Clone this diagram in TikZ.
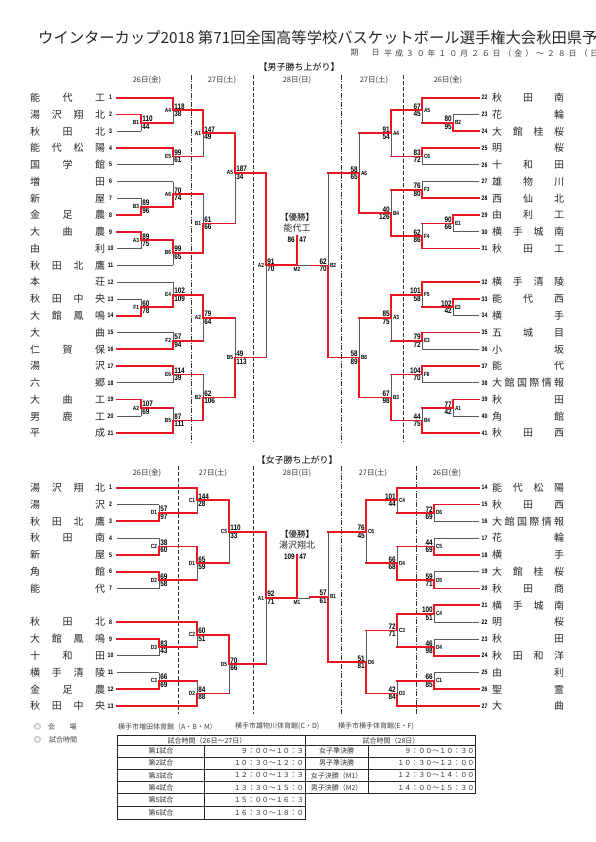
\documentclass[tikz,border=0pt]{standalone}
\usepackage{fontspec}
\setmainfont{Noto Sans CJK JP}
\newfontfamily\scorefont[FakeStretch=0.8]{Liberation Sans}
\usetikzlibrary{calc}
\definecolor{wred}{RGB}{232,22,34}

\tikzset{
  win/.style={draw=wred, line width=1.7pt, line cap=rect},
  lose/.style={draw=black!65, line width=0.8pt},
  score/.style={font=\scorefont\bfseries\fontsize{8}{8}\selectfont, inner sep=0.7pt},
  mlabel/.style={font=\scorefont\bfseries\fontsize{6}{6}\selectfont, inner sep=0.6pt},
  tnum/.style={font=\scorefont\bfseries\fontsize{6.5}{6.5}\selectfont, inner sep=0pt},
  tname/.style={font=\fontsize{10}{10}\selectfont, text=black!85, inner sep=0pt},
  daylab/.style={font=\fontsize{7.5}{7.5}\selectfont, text=black!80, inner sep=0pt},
  sepdash/.style={black!80, line width=0.8pt, dash pattern=on 4pt off 2pt},
  sepdot/.style={black!80, line width=0.8pt, dash pattern=on 5pt off 1.5pt on 1pt off 1.5pt},
  small/.style={font=\fontsize{7}{7}\selectfont, text=black!75, inner sep=0pt},
  cell/.style={font=\fontsize{7}{7}\selectfont, text=black!80, inner sep=0pt},
}

% names spread over a fixed width
\def\spfirst#1{#1\sprest}
\def\sprest#1{\ifx\relax#1\else\hfil#1\expandafter\sprest\fi}
\newcommand\spreadtext[2]{\makebox[#1][s]{\expandafter\spfirst#2\relax}}

% horizontal feed into a bout
\def\headof#1#2\relax{#1}
\newcommand\hseg[2]{%
  \ifnum#2=1 \draw[win] (#1) -- (bx |- #1);%
  \else\if t\headof#1\relax\draw[lose] (#1) -- (bx |- #1);%
  \else\draw[win] (#1) -- (bx |- #1);\fi\fi}

% [dy] out, x, upper, lower, winner, label, upper score, lower score
\newcommand\bout[9][0]{%
  \coordinate (bx) at (#3,0);
  \coordinate (bm) at ($(#4)!0.5!(#5)$);
  \coordinate (#2) at ($(bx |- bm)+(0,#1)$);
  \ifnum#6=1
    \hseg{#5}{0}\draw[lose] (bx |- #5) -- (#2);
    \hseg{#4}{1}\draw[win] (bx |- #4) -- (#2);
  \else
    \hseg{#4}{0}\draw[lose] (bx |- #4) -- (#2);
    \hseg{#5}{1}\draw[win] (bx |- #5) -- (#2);
  \fi
  \ifdim#3pt<297pt
    \node[mlabel, anchor=east] (#2l) at ([xshift=-1.2pt]#2) {#7};
    \node[score, anchor=south west] (#2a) at ([xshift=0.4pt]#2) {#8};
    \node[score, anchor=north west] (#2b) at ([xshift=0.4pt]#2) {#9};
  \else
    \node[mlabel, anchor=west] (#2l) at ([xshift=1.2pt]#2) {#7};
    \node[score, anchor=south east] (#2a) at ([xshift=-0.4pt]#2) {#8};
    \node[score, anchor=north east] (#2b) at ([xshift=-0.4pt]#2) {#9};
  \fi}

\begin{document}
\begin{tikzpicture}[x=1pt, y=-1pt]
\useasboundingbox (0,0) rectangle (595,842);
\clip (0,0) rectangle (595,842);

% heading
\node[anchor=west, inner sep=0pt, font=\fontsize{15.3}{15.3}\selectfont, text=black!85] (title) at (38,38)
  {ウインターカップ2018 第71回全国高等学校バスケットボール選手権大会秋田県予選会};
\node[small, font=\fontsize{8}{8}\selectfont] (kiA) at (354.5,53) {期};
\node[small, font=\fontsize{8}{8}\selectfont] (kiB) at (375.5,53) {日};
\node[small, font=\fontsize{8}{8}\selectfont, anchor=west] (date) at (384,53)
  {\spreadtext{225pt}{平成３０年１０月２６日（金）～２８日（日）}};

%% men
\node[font=\fontsize{9}{9}\selectfont, inner sep=0pt] (mhead) at (299,67) {【男子勝ち上がり】};
\foreach \dx/\dt [count=\k] in {147/26日(金), 222/27日(土), 297/28日(日), 374/27日(土), 448/26日(金)}
  \node[daylab] (mday\k) at (\dx,80) {\dt};
\foreach \sx/\ss in {191/sepdot, 253/sepdash, 341/sepdot, 403/sepdash}
  \draw[\ss] (\sx,75) -- (\sx,442);

\foreach \nm/\tx in {1/能代工, 2/湯沢翔北, 3/秋田北, 4/能代松陽, 5/国学館, 6/増田, 7/新屋,
    8/金足農, 9/大曲農, 10/由利, 11/秋田北鷹, 12/本荘, 13/秋田中央, 14/大館鳳鳴, 15/大曲,
    16/仁賀保, 17/湯沢, 18/六郷, 19/大曲工, 20/男鹿工, 21/平成} {
  \pgfmathsetmacro\yy{97.7+16.77*(\nm-1)}
  \coordinate (tm\nm) at (117,\yy);
  \node[tnum] (nm\nm) at (110.5,\yy) {\nm};
  \node[tname, anchor=west] (xm\nm) at (30,\yy) {\spreadtext{75pt}{\tx}};
}
\foreach \nm/\rw/\tx in {22/1/秋田南, 23/2/花輪, 24/3/大館桂桜, 25/4/明桜, 26/5/十和田,
    27/6/雄物川, 28/7/西仙北, 29/8/由利工, 30/9/横手城南, 31/10/秋田工, 32/12/横手清陵,
    33/13/能代西, 34/14/横手, 35/15/五城目, 36/16/小坂, 37/17/能代, 38/18/大館国際情報,
    39/19/秋田, 40/20/角館, 41/21/秋田西} {
  \pgfmathsetmacro\yy{97.7+16.77*(\rw-1)}
  \coordinate (tm\nm) at (479,\yy);
  \node[tnum] (nm\nm) at (484.5,\yy) {\nm};
  \node[tname, anchor=west] (xm\nm) at (492,\yy) {\spreadtext{72pt}{\tx}};
}

% left half
\bout{ml1}{141}{tm2}{tm3}{1}{B1}{110}{44}
\bout{ml2}{173}{tm1}{ml1}{1}{A4}{118}{38}
\bout{ml3}{173}{tm4}{tm5}{1}{E5}{99}{61}
\bout{ml4}{203}{ml2}{ml3}{1}{A1}{147}{49}
\bout{ml5}{141}{tm7}{tm8}{2}{B3}{89}{96}
\bout{ml6}{173}{tm6}{ml5}{2}{A6}{70}{74}
\bout{ml7}{141}{tm9}{tm10}{1}{A3}{89}{75}
\bout{ml8}{173}{ml7}{tm11}{1}{B6}{99}{65}
\bout{ml9}{203}{ml6}{ml8}{2}{B1}{61}{66}
\bout[-5.7]{ml10}{235}{ml4}{ml9}{1}{A5}{187}{34}
\bout{ml11}{141}{tm13}{tm14}{2}{F1}{60}{78}
\bout{ml12}{173}{tm12}{ml11}{2}{E4}{102}{109}
\bout{ml13}{173}{tm15}{tm16}{2}{F2}{57}{94}
\bout{ml14}{203}{ml12}{ml13}{1}{A2}{79}{64}
\bout{ml15}{173}{tm17}{tm18}{1}{E6}{114}{39}
\bout{ml16}{141}{tm19}{tm20}{1}{A2}{107}{69}
\bout{ml17}{173}{ml16}{tm21}{2}{B5}{87}{111}
\bout{ml18}{203}{ml15}{ml17}{2}{B2}{62}{106}
\bout{ml19}{235}{ml14}{ml18}{2}{B5}{49}{113}
\bout{ml20}{266}{ml10}{ml19}{1}{A2}{91}{70}

% right half
\bout{mr1}{453}{tm23}{tm24}{2}{B2}{80}{95}
\bout{mr2}{422}{tm22}{mr1}{1}{A5}{67}{45}
\bout{mr3}{422}{tm25}{tm26}{1}{C6}{83}{72}
\bout{mr4}{391}{mr2}{mr3}{1}{A4}{91}{54}
\bout{mr5}{422}{tm27}{tm28}{2}{F3}{76}{80}
\bout{mr6}{453}{tm29}{tm30}{1}{E1}{90}{66}
\bout{mr7}{422}{mr6}{tm31}{2}{F4}{62}{86}
\bout{mr8}{391}{mr5}{mr7}{2}{B4}{40}{126}
\bout{mr9}{359}{mr4}{mr8}{2}{A6}{58}{65}
\bout{mr10}{453}{tm33}{tm34}{1}{E2}{102}{42}
\bout{mr11}{422}{tm32}{mr10}{1}{F5}{101}{58}
\bout{mr12}{422}{tm35}{tm36}{1}{E3}{79}{72}
\bout{mr13}{391}{mr11}{mr12}{1}{A3}{85}{75}
\bout{mr14}{422}{tm37}{tm38}{1}{F6}{104}{70}
\bout{mr15}{453}{tm39}{tm40}{1}{A1}{77}{42}
\bout{mr16}{422}{mr15}{tm41}{2}{B4}{44}{75}
\bout{mr17}{391}{mr14}{mr16}{2}{B3}{67}{98}
\bout{mr18}{359}{mr13}{mr17}{2}{B6}{58}{89}
\bout{mr19}{328}{mr9}{mr18}{2}{B2}{62}{70}

% men final
\coordinate (mx) at (297,0);
\coordinate (mbrk) at (310,0);
\coordinate (mfin) at (mx |- ml20);
\coordinate (mtop) at (297,235.5);
\draw[lose] (mfin) -- (mbrk |- ml20);
\draw[win] (mbrk |- mr19) -- (mr19);
\draw[win] (ml20) -- (mfin);
\draw[win] (mtop) -- (mfin);
\node[mlabel, anchor=north] (mfinl) at ([yshift=-1.4pt]mfin) {M2};
\node[font=\fontsize{8.5}{8.5}\selectfont, inner sep=0pt] (mwinA) at (297,217) {【優勝】};
\node[font=\fontsize{9}{9}\selectfont, inner sep=0pt, text=black!85] (mwinB) at (297,228.5) {能代工};
\node[score, anchor=east] (mwinC) at (295.6,240) {86};
\node[score, anchor=west] (mwinD) at (298.4,240) {47};

%% women
\node[font=\fontsize{9}{9}\selectfont, inner sep=0pt] (whead) at (297,460) {【女子勝ち上がり】};
\foreach \dx/\dt [count=\k] in {147/26日(金), 213/27日(土), 297/28日(日), 373/27日(土), 447/26日(金)}
  \node[daylab] (wday\k) at (\dx,473) {\dt};
\foreach \sx/\ss in {178/sepdash, 253/sepdash, 341/sepdot, 416/sepdot}
  \draw[\ss] (\sx,466) -- (\sx,714);

\foreach \nm/\rw/\tx in {1/1/湯沢翔北, 2/2/湯沢, 3/3/秋田北鷹, 4/4/秋田南, 5/5/新屋, 6/6/角館,
    7/7/能代, 8/9/秋田北, 9/10/大館鳳鳴, 10/11/十和田, 11/12/横手清陵, 12/13/金足農, 13/14/秋田中央} {
  \pgfmathsetmacro\yy{487.7+16.8*(\rw-1)}
  \coordinate (tw\nm) at (117,\yy);
  \node[tnum] (nw\nm) at (110.5,\yy) {\nm};
  \node[tname, anchor=west] (xw\nm) at (30,\yy) {\spreadtext{75pt}{\tx}};
}
\foreach \nm/\rw/\tx in {14/1/能代松陽, 15/2/秋田西, 16/3/大館国際情報, 17/4/花輪, 18/5/横手,
    19/6/大館桂桜, 20/7/秋田商, 21/8/横手城南, 22/9/明桜, 23/10/秋田, 24/11/秋田和洋,
    25/12/由利, 26/13/聖霊, 27/14/大曲} {
  \pgfmathsetmacro\yy{487.7+16.8*(\rw-1)}
  \coordinate (tw\nm) at (479,\yy);
  \node[tnum] (nw\nm) at (484.5,\yy) {\nm};
  \node[tname, anchor=west] (xw\nm) at (492,\yy) {\spreadtext{72pt}{\tx}};
}

% left half
\bout{wl1}{159}{tw2}{tw3}{2}{D1}{57}{97}
\bout{wl2}{197}{tw1}{wl1}{1}{C1}{144}{28}
\bout{wl3}{159}{tw4}{tw5}{2}{C2}{38}{60}
\bout{wl4}{159}{tw6}{tw7}{1}{D2}{69}{58}
\bout{wl5}{197}{wl3}{wl4}{1}{D1}{65}{59}
\bout{wl6}{229}{wl2}{wl5}{1}{C5}{110}{33}
\bout{wl7}{159}{tw9}{tw10}{1}{D3}{83}{43}
\bout{wl8}{197}{tw8}{wl7}{1}{C2}{60}{51}
\bout{wl9}{159}{tw11}{tw12}{2}{C3}{66}{69}
\bout{wl10}{197}{wl9}{tw13}{2}{D2}{84}{88}
\bout{wl11}{229}{wl8}{wl10}{1}{D5}{70}{66}
\bout{wl12}{266}{wl6}{wl11}{1}{A1}{92}{71}

% right half
\bout{wr1}{434}{tw15}{tw16}{1}{D6}{72}{69}
\bout{wr2}{397}{tw14}{wr1}{1}{C4}{101}{44}
\bout{wr3}{434}{tw17}{tw18}{2}{C5}{44}{69}
\bout{wr4}{434}{tw19}{tw20}{2}{D5}{59}{71}
\bout{wr5}{397}{wr3}{wr4}{2}{D4}{66}{68}
\bout{wr6}{366}{wr2}{wr5}{1}{C6}{76}{45}
\bout{wr7}{434}{tw21}{tw22}{1}{C4}{100}{51}
\bout{wr8}{434}{tw23}{tw24}{2}{D4}{46}{98}
\bout{wr9}{397}{wr7}{wr8}{1}{C3}{72}{71}
\bout{wr10}{434}{tw25}{tw26}{2}{C1}{66}{85}
\bout{wr11}{397}{wr10}{tw27}{2}{D3}{42}{84}
\bout{wr12}{366}{wr9}{wr11}{2}{D6}{51}{81}
\bout{wr13}{328}{wr6}{wr12}{2}{B1}{57}{61}

% women final
\coordinate (wfin) at (mx |- wl12);
\coordinate (wtop) at (297,554.5);
\draw[lose] (wfin) -- (mbrk |- wl12);
\draw[win] (mbrk |- wr13) -- (wr13);
\draw[win] (wl12) -- (wfin);
\draw[win] (wtop) -- (wfin);
\node[mlabel, anchor=north] (wfinl) at ([yshift=-1.4pt]wfin) {M1};
\node[font=\fontsize{8.5}{8.5}\selectfont, inner sep=0pt] (wwinA) at (297,534) {【優勝】};
\node[font=\fontsize{9}{9}\selectfont, inner sep=0pt, text=black!85] (wwinB) at (297,545.5) {湯沢翔北};
\node[score, anchor=east] (wwinC) at (295.6,557) {109};
\node[score, anchor=west] (wwinD) at (298.4,557) {47};

%% venues and times
\node[small] (mkA) at (37.5,726.5) {◎};
\node[small] (kaiA) at (51.7,726.5) {会};
\node[small] (kaiB) at (73.2,726.5) {場};
\node[small] (mkB) at (37.5,740.2) {◎};
\node[small, anchor=west] (jikan) at (49,740.2) {試合時間};
\node[small, anchor=west] (venA) at (118,726.5) {横手市増田体育館（A・B・M）};
\node[small, anchor=west] (venB) at (235,726.5) {横手市雄物川体育館(C・D)};
\node[small, anchor=west] (venC) at (338,726.5) {横手市横手体育館(E・F)};

\begin{scope}[black!85, line width=0.9pt]
  \draw (117,735.5) rectangle (305,819.3);
  \foreach \ty in {745.6, 757.1, 769.3, 781.5, 793.8, 806.7}
    \draw (117,\ty) -- (305,\ty);
  \draw (204.5,745.6) -- (204.5,819.3);
  \draw (305,735.5) rectangle (475,793.8);
  \foreach \ty in {745.6, 757.1, 769.3, 781.5}
    \draw (305,\ty) -- (475,\ty);
  \draw (368.2,745.6) -- (368.2,793.8);
\end{scope}
\node[cell] (hdA) at (207,740.5) {試合時間（26日～27日）};
\node[cell] (hdB) at (391,740.5) {試合時間（28日）};
\foreach \ty/\gm/\tt [count=\k] in {751.3/第1試合/９：００～１０：３０, 763.2/第2試合/１０：３０～１２：００,
    775.4/第3試合/１２：００～１３：３０, 787.6/第4試合/１３：３０～１５：００,
    800.2/第5試合/１５：００～１６：３０, 813.0/第6試合/１６：３０～１８：００} {
  \node[cell] (gm\k) at (161,\ty) {\gm};
  \begin{scope}
    \clip (204.5,745.6) rectangle (304.5,819.3);
    \node[cell, anchor=east] (tt\k) at (311,\ty) {\tt};
  \end{scope}
}
\foreach \ty/\gm/\tt [count=\k] in {751.3/女子準決勝/９：００～１０：３０, 763.2/男子準決勝/１０：３０～１２：００,
    775.4/女子決勝（M1）/１２：３０～１４：００, 787.6/男子決勝（M2）/１４：００～１５：３０} {
  \node[cell] (fg\k) at (336.6,\ty) {\gm};
  \node[cell, anchor=east] (ft\k) at (474.5,\ty) {\tt};
}
\end{tikzpicture}
\end{document}
